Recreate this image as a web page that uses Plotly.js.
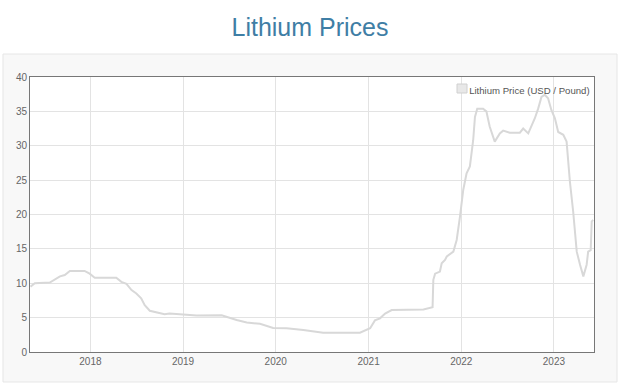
<!DOCTYPE html>
<html>
<head>
<meta charset="utf-8">
<script src="https://cdn.plot.ly/plotly-3.0.1.min.js"></script>
<style>html,body{margin:0;padding:0;background:#fff;}#chart{width:625px;height:392px;}</style>
</head>
<body>
<div id="chart"></div>
<script>
const chartTitle = "Lithium Prices";
const seriesName = "Lithium Price (USD / Pound)";
const dates = [
'2017-05-10','2017-05-27','2017-07-25','2017-08-14','2017-09-03','2017-09-22','2017-10-12','2017-12-09','2017-12-29','2018-01-18',
'2018-04-13','2018-05-03','2018-05-23','2018-06-12','2018-07-01','2018-07-20','2018-08-03','2018-08-23','2018-09-24','2018-10-20',
'2018-11-09','2019-01-02','2019-02-23','2019-06-02','2019-07-31','2019-09-09','2019-10-31','2019-12-22','2020-02-13','2020-04-19',
'2020-07-06','2020-11-28','2020-12-24','2021-01-07','2021-01-26','2021-02-15','2021-03-07','2021-04-02','2021-08-05','2021-08-31',
'2021-09-10','2021-09-13','2021-09-20','2021-10-09','2021-10-16','2021-10-29','2021-11-05','2021-12-01','2021-12-14','2021-12-27',
'2022-01-09','2022-01-22','2022-02-04','2022-02-17','2022-02-24','2022-03-05','2022-03-28','2022-04-10','2022-04-23','2022-05-13',
'2022-06-02','2022-06-15','2022-07-11','2022-08-20','2022-09-02','2022-09-22','2022-10-05','2022-10-18','2022-10-31','2022-11-13',
'2022-11-26','2022-12-09','2022-12-22','2023-01-05','2023-01-18','2023-02-07','2023-02-20','2023-03-05','2023-03-18','2023-04-01',
'2023-04-14','2023-04-27','2023-05-10','2023-05-16','2023-05-26','2023-05-30','2023-06-05'
];
const prices = [
9.5,10.0,10.1,10.5,11.0,11.2,11.8,11.8,11.4,10.8,
10.8,10.2,9.9,9.0,8.5,7.8,6.8,6.0,5.7,5.5,
5.6,5.45,5.3,5.35,4.65,4.3,4.1,3.5,3.45,3.2,
2.8,2.8,3.2,3.45,4.6,4.9,5.6,6.1,6.2,6.45,
6.5,10.5,11.4,11.7,12.9,13.4,13.9,14.6,16.3,19.7,
23.6,26.0,27.0,30.8,34.2,35.4,35.4,35.0,32.8,30.6,
31.8,32.2,31.9,31.9,32.5,31.8,32.8,34.0,35.4,37.1,
37.4,36.9,35.2,34.0,32.0,31.6,30.6,24.8,20.4,14.6,
12.7,11.0,12.7,14.6,14.8,19.0,19.2
];
const yTicks = [0,5,10,15,20,25,30,35,40];
const xTickVals = ['2018-01-01','2019-01-01','2020-01-01','2021-01-01','2022-01-01','2023-01-01'];
const xTickText = ['2018','2019','2020','2021','2022','2023'];

const font = "'Liberation Sans', Arial, Helvetica, sans-serif";
const traces = [
  {x: dates, y: prices, type: 'scatter', mode: 'lines', name: seriesName, showlegend: false,
   line: {color: '#d8d8d8', width: 2}, hoverinfo: 'x+y'},
  {x: [null], y: [null], type: 'scatter', mode: 'markers', name: seriesName, showlegend: true,
   marker: {symbol: 'square', size: 10, color: 'rgba(0,0,0,0)', line: {width: 0}}}
];
const layout = {
  width: 625, height: 392,
  margin: {l: 30, r: 31, t: 77, b: 40, pad: 0},
  paper_bgcolor: '#ffffff', plot_bgcolor: '#ffffff',
  font: {family: font, color: '#666', size: 10},
  title: {text: chartTitle, font: {family: font, size: 25, color: '#3f7ea5'}, x: 0.496, xanchor: 'center', y: 0.93, yanchor: 'middle'},
  xaxis: {type: 'date', range: ['2017-05-08','2023-06-08'], tickmode: 'array', tickvals: xTickVals, ticktext: xTickText,
    showgrid: true, gridcolor: '#e3e3e3', gridwidth: 1, showline: true, linecolor: '#777', linewidth: 1, mirror: true,
    ticks: '', zeroline: false, tickfont: {size: 10, color: '#666'}, fixedrange: true},
  yaxis: {range: [0, 40], tickmode: 'array', tickvals: yTicks, showgrid: true, gridcolor: '#e3e3e3', gridwidth: 1,
    showline: true, linecolor: '#777', linewidth: 1, mirror: true, ticks: '', zeroline: false,
    tickfont: {size: 10, color: '#666'}, fixedrange: true},
  legend: {x: 1.002, xanchor: 'right', y: 1.005, yanchor: 'top', bgcolor: 'rgba(0,0,0,0)', borderwidth: 0,
    font: {size: 9.6, color: '#555'}, itemwidth: 30, tracegroupgap: 0},
  shapes: [
    {type: 'rect', xref: 'paper', yref: 'paper', x0: -0.0479, x1: 1.0408, y0: -0.109, y1: 1.0836,
     fillcolor: '#f8f8f8', line: {color: '#e6e6e6', width: 1}, layer: 'below'},
    {type: 'rect', xref: 'paper', yref: 'paper', x0: 0, x1: 1, y0: 0, y1: 1,
     fillcolor: '#ffffff', line: {width: 0}, layer: 'below'},
    {type: 'rect', xref: 'paper', yref: 'paper', x0: (457-30)/564, x1: (467-30)/564, y0: (352-93)/275, y1: (352-84)/275,
     fillcolor: '#e8e8e8', line: {color: '#d0d0d0', width: 1}, layer: 'above'}
  ],
  showlegend: true
};
Plotly.newPlot('chart', traces, layout, {displayModeBar: false, staticPlot: true});
</script>
</body>
</html>
